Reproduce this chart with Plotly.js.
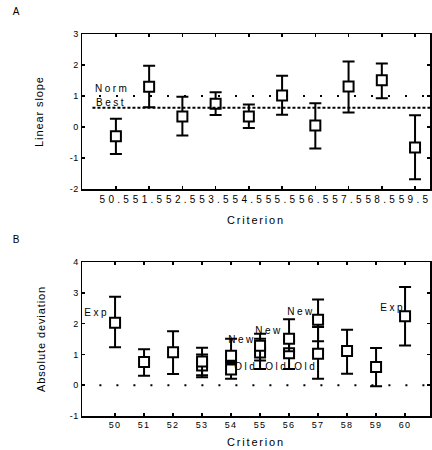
<!DOCTYPE html>
<html>
<head>
<meta charset="utf-8">
<script src="https://cdn.plot.ly/plotly-3.0.1.min.js"></script>
<style>
  html, body { margin: 0; padding: 0; background: #fff; }
  #chart { width: 432px; height: 450px; }
  .xtick text { letter-spacing: 3.3px; }
  .x2tick text { letter-spacing: 1.4px; }
  .ytick text, .y2tick text { letter-spacing: 0.5px; }
  text.xtitle, text.x2title { letter-spacing: 1.8px; }
  text.ytitle, text.y2title { letter-spacing: 0.9px; }
  g.annotation text { letter-spacing: 2.5px; }
</style>
</head>
<body>
<div id="chart"></div>
<script>
// ---------- Panel A: Linear slope ----------
const critA = [50.5, 51.5, 52.5, 53.5, 54.5, 55.5, 56.5, 57.5, 58.5, 59.5];
const critALabels = ["50.5", "51.5", "52.5", "53.5", "54.5", "55.5", "56.5", "57.5", "58.5", "59.5"];
const slope = [-0.30, 1.30, 0.34, 0.75, 0.34, 1.02, 0.05, 1.31, 1.51, -0.66];
const slopeHigh = [0.27, 1.98, 0.98, 1.12, 0.73, 1.65, 0.77, 2.11, 2.05, 0.38];
const slopeLow = [-0.87, 0.64, -0.27, 0.39, -0.03, 0.40, -0.69, 0.47, 0.93, -1.68];
const normSlope = 1.0;
const bestSlope = 0.62;
const yTicksA = [-2, -1, 0, 1, 2, 3];
const yTickTextA = ["-2", "-1", "0", "1", "2", "3"];

// ---------- Panel B: Absolute deviation ----------
const critB = [50, 51, 52, 53, 54, 55, 56, 57, 58, 59, 60];
const critBLabels = ["50", "51", "52", "53", "54", "55", "56", "57", "58", "59", "60"];
const dev = [2.03, 0.75, 1.07, 0.77, 0.96, 1.28, 1.51, 2.13, 1.11, 0.59, 2.24];
const devHigh = [2.87, 1.17, 1.75, 1.22, 1.51, 1.67, 2.14, 2.78, 1.80, 1.21, 3.19];
const devLow = [1.23, 0.31, 0.36, 0.32, 0.78, 0.80, 1.10, 1.43, 0.37, -0.03, 1.29];
const critB2 = [53, 54, 55, 56, 57];
const dev2 = [0.64, 0.51, 1.06, 1.04, 1.02];
const dev2High = [1.00, 0.72, 1.51, 1.45, 1.89];
const dev2Low = [0.26, 0.21, 0.53, 0.53, 0.21];
const yTicksB = [-1, 0, 1, 2, 3, 4];
const yTickTextB = ["-1", "0", "1", "2", "3", "4"];

// point labels (text, x, y) in panel B
const labelsB = [
  ["Exp", 49.36, 2.36], ["Exp", 59.60, 2.52],
  ["New", 54.40, 1.49], ["New", 55.34, 1.78], ["New", 56.43, 2.40],
  ["Old", 54.50, 0.62], ["Old", 55.59, 0.62], ["Old", 56.57, 0.62]
];

const FONT = "Liberation Sans, Arial, Helvetica, sans-serif";
const sub = (a, b) => a.map((v, i) => v - b[i]);

function errTrace(x, y, hi, lo, xa, ya) {
  return {
    type: "scatter", mode: "markers", x: x, y: y, xaxis: xa, yaxis: ya,
    marker: { symbol: "square", size: 10, color: "#fff", line: { color: "#000", width: 2 } },
    error_y: { type: "data", symmetric: false, array: sub(hi, y), arrayminus: sub(y, lo),
               color: "#000", thickness: 2, width: 6 },
    showlegend: false, hoverinfo: "x+y"
  };
}

const traces = [
  errTrace(critA, slope, slopeHigh, slopeLow, "x", "y"),
  errTrace(critB2, dev2, dev2High, dev2Low, "x2", "y2"),
  errTrace(critB, dev, devHigh, devLow, "x2", "y2")
];

const axisCommon = {
  showline: true, linecolor: "#000", linewidth: 1.5, mirror: "ticks",
  ticks: "inside", ticklen: 3, tickwidth: 1.5, tickcolor: "#000",
  showgrid: false, zeroline: false,
  tickfont: { family: FONT, size: 9, color: "#000" }
};

const layout = {
  width: 432, height: 450,
  margin: { l: 82, r: 2, t: 34, b: 34 },
  paper_bgcolor: "#fff", plot_bgcolor: "#fff",
  showlegend: false,
  font: { family: FONT, color: "#000" },
  xaxis: Object.assign({}, axisCommon, {
    domain: [0, 1], anchor: "y", range: [49.48, 59.95],
    tickmode: "array", tickvals: critA, ticktext: critALabels,
    tickfont: { family: FONT, size: 10, color: "#000" },
    title: { text: "Criterion", font: { family: FONT, size: 11, color: "#000" }, standoff: 12 }
  }),
  yaxis: Object.assign({}, axisCommon, {
    domain: [0.594, 1], anchor: "x", range: [-2, 3],
    tickmode: "array", tickvals: yTicksA, ticktext: yTickTextA,
    title: { text: "Linear slope", font: { family: FONT, size: 11, color: "#000" }, standoff: 24 }
  }),
  xaxis2: Object.assign({}, axisCommon, {
    domain: [0, 1], anchor: "y2", range: [48.86, 60.86],
    tickmode: "array", tickvals: critB, ticktext: critBLabels,
    title: { text: "Criterion", font: { family: FONT, size: 11, color: "#000" }, standoff: 9 }
  }),
  yaxis2: Object.assign({}, axisCommon, {
    domain: [0, 0.403], anchor: "x2", range: [-1, 4],
    tickmode: "array", tickvals: yTicksB, ticktext: yTickTextB,
    title: { text: "Absolute deviation", font: { family: FONT, size: 11, color: "#000" }, standoff: 22 }
  }),
  shapes: [
    { type: "line", xref: "x domain", yref: "y", x0: 0, x1: 1, y0: normSlope, y1: normSlope,
      line: { color: "#000", width: 2, dash: "2px,15px" } },
    { type: "line", xref: "x domain", yref: "y", x0: 0.03, x1: 1, y0: bestSlope, y1: bestSlope,
      line: { color: "#000", width: 2, dash: "3px,2px" } },
    { type: "line", xref: "x2 domain", yref: "y2", x0: 0.05, x1: 1, y0: 0, y1: 0,
      line: { color: "#000", width: 2, dash: "2px,15px" } }
  ],
  annotations: [
    { text: "A", xref: "paper", yref: "paper", x: -0.184, y: 1.060, showarrow: false,
      xanchor: "center", yanchor: "middle", font: { family: FONT, size: 10, color: "#000" } },
    { text: "B", xref: "paper", yref: "paper", x: -0.184, y: 0.461, showarrow: false,
      xanchor: "center", yanchor: "middle", font: { family: FONT, size: 10, color: "#000" } },
    { text: "Norm", xref: "x", yref: "y", x: 50.38, y: 1.25, showarrow: false,
      xanchor: "center", yanchor: "middle", font: { family: FONT, size: 10, color: "#000" } },
    { text: "Best", xref: "x", yref: "y", x: 50.35, y: 0.80, showarrow: false,
      xanchor: "center", yanchor: "middle", font: { family: FONT, size: 10, color: "#000" } }
  ].concat(labelsB.map(l => ({
    text: l[0], xref: "x2", yref: "y2", x: l[1], y: l[2], showarrow: false,
    xanchor: "center", yanchor: "middle", font: { family: FONT, size: 10, color: "#000" }
  })))
};

Plotly.newPlot("chart", traces, layout, { staticPlot: true, displayModeBar: false });
</script>
</body>
</html>
